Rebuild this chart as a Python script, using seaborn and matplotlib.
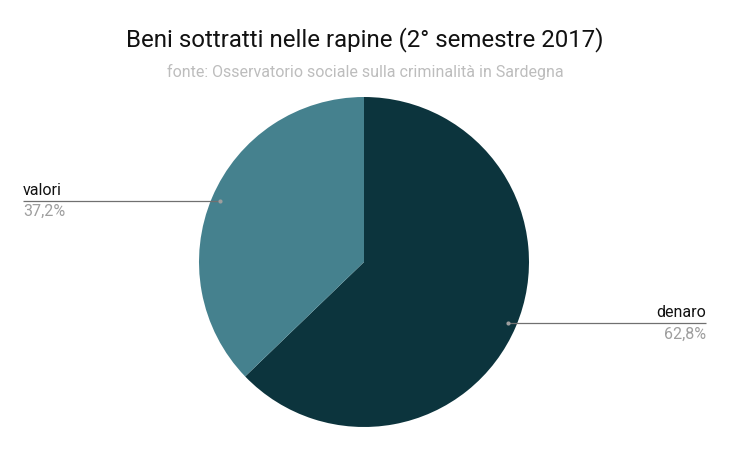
import numpy as np
import matplotlib
matplotlib.use("Agg")
import matplotlib.pyplot as plt
import seaborn as sns

categories = ["denaro", "valori"]
values = [62.8, 37.2]
pct_labels = ["62,8%", "37,2%"]
colors = ["#0c343d", "#45818e"]

sns.set_theme(style="white")
plt.rcParams["font.family"] = ["Roboto", "DejaVu Sans"]

W, H = 729, 450
fig = plt.figure(figsize=(W / 100, H / 100), dpi=100)
ax = fig.add_axes([0, 0, 1, 1])

cx, cy, R = 364, H - 262, 165
wedges, _ = ax.pie(values, colors=colors, startangle=90, counterclock=False,
                   radius=R, center=(cx, cy), frame=True,
                   wedgeprops=dict(linewidth=0))
ax.set_xlim(0, W)
ax.set_ylim(0, H)
ax.set_aspect("equal")
ax.axis("off")

fig.text(365 / W, 1 - 40 / H, "Beni sottratti nelle rapine (2° semestre 2017)",
         ha="center", va="center", fontsize=17.3, color="#111111")
fig.text(365 / W, 1 - 72 / H, "fonte: Osservatorio sociale sulla criminalità in Sardegna",
         ha="center", va="center", fontsize=11.5, color="#bdbdbd")

for w, cat, pct in zip(wedges, categories, pct_labels):
    mid = np.deg2rad((w.theta1 + w.theta2) / 2)
    px = cx + 0.95 * R * np.cos(mid)
    py = cy + 0.95 * R * np.sin(mid)
    if np.cos(mid) > 0:
        ex, ha = 706, "right"
    else:
        ex, ha = 23, "left"
    ax.plot([px, ex], [py, py], color="#707070", lw=0.9, solid_capstyle="butt")
    ax.plot([px], [py], "o", ms=3, color="#9e9e9e", mec="none")
    ax.text(ex, py + 3, cat, ha=ha, va="bottom", fontsize=11.5, color="#111111")
    ax.text(ex, py - 3.5, pct, ha=ha, va="top", fontsize=11.5, color="#9e9e9e")

fig.savefig("out.png", dpi=100, facecolor="white")
